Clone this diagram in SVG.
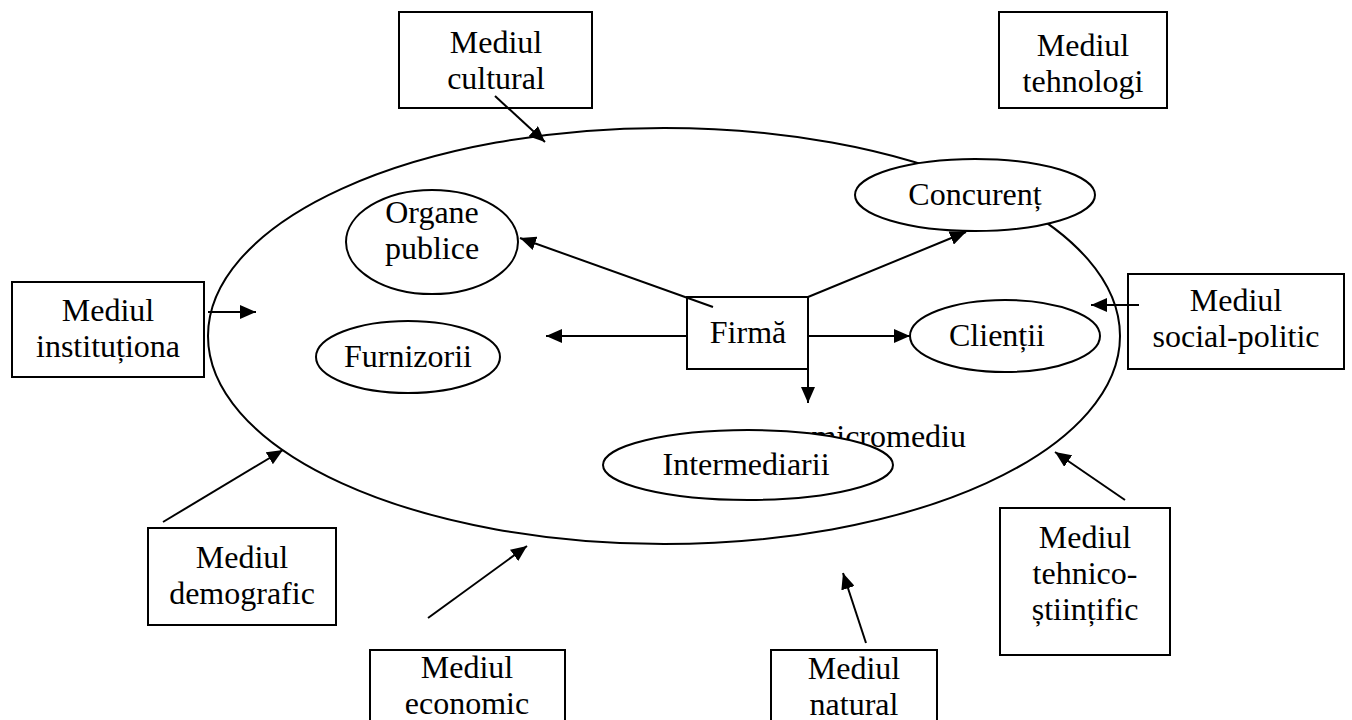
<svg xmlns="http://www.w3.org/2000/svg" width="1352" height="720" viewBox="0 0 1352 720">
<style>
text{font-family:"Liberation Serif","Times New Roman",serif;font-size:32px;fill:#000;text-anchor:middle}
.box{fill:#fff;stroke:#000;stroke-width:2}
.ell{fill:#fff;stroke:#000;stroke-width:2}
.con line{stroke:#000;stroke-width:2;marker-end:url(#ah)}
</style>
<defs>
<marker id="ah" markerUnits="userSpaceOnUse" markerWidth="18" markerHeight="14" refX="16" refY="7" orient="auto">
<path d="M0,0 L16,7 L0,14 Z" fill="#000"/>
</marker>
</defs>
<rect width="1352" height="720" fill="#fff"/>
<g id="micromediu-area">
<ellipse cx="664" cy="336" rx="456" ry="208" fill="none" stroke="#000" stroke-width="2"/>
<text x="966" y="447" style="text-anchor:end">micromediu</text>
</g>
<g id="organe"><ellipse class="ell" cx="432" cy="242" rx="86" ry="52"/><text x="432" y="223">Organe</text><text x="432" y="259">publice</text></g>
<g id="concurent"><ellipse class="ell" cx="975" cy="195" rx="120" ry="36"/><text x="975" y="205">Concurenț</text></g>
<g id="clientii"><ellipse class="ell" cx="1005" cy="336" rx="95" ry="36"/><text x="997" y="346">Clienții</text></g>
<g id="furnizorii"><ellipse class="ell" cx="408" cy="357" rx="92" ry="36"/><text x="408" y="367">Furnizorii</text></g>
<g id="intermediarii"><ellipse class="ell" cx="748" cy="465" rx="145" ry="35"/><text x="746" y="475">Intermediarii</text></g>
<g id="firma"><rect class="box" x="687" y="297" width="121" height="72"/><text x="748" y="343">Firmă</text></g>
<g id="cultural"><rect class="box" x="399" y="12" width="193" height="96"/><text x="496" y="53">Mediul</text><text x="496" y="89">cultural</text></g>
<g id="tehnologi"><rect class="box" x="999" y="12" width="168" height="96"/><text x="1083" y="56">Mediul</text><text x="1083" y="92">tehnologi</text></g>
<g id="institutional"><rect class="box" x="12" y="282" width="192" height="95"/><text x="108" y="321">Mediul</text><text x="108" y="357">instituționa</text></g>
<g id="socialpolitic"><rect class="box" x="1128" y="274" width="216" height="95"/><text x="1236" y="311">Mediul</text><text x="1236" y="347">social-politic</text></g>
<g id="demografic"><rect class="box" x="148" y="528" width="188" height="97"/><text x="242" y="568">Mediul</text><text x="242" y="604">demografic</text></g>
<g id="economic"><rect class="box" x="370" y="650" width="195" height="80"/><text x="467" y="678">Mediul</text><text x="467" y="714">economic</text></g>
<g id="natural"><rect class="box" x="771" y="650" width="166" height="80"/><text x="854" y="679">Mediul</text><text x="854" y="715">natural</text></g>
<g id="tehnico"><rect class="box" x="1000" y="508" width="170" height="147"/><text x="1085" y="548">Mediul</text><text x="1085" y="584">tehnico-</text><text x="1085" y="620">științific</text></g>
<g class="con" id="connectors">
<line x1="713" y1="307" x2="520" y2="238"/>
<line x1="808" y1="297" x2="966" y2="232"/>
<line x1="808" y1="336" x2="910" y2="336"/>
<line x1="687" y1="336" x2="546" y2="336"/>
<line x1="808" y1="369" x2="808" y2="403"/>
<line x1="495" y1="96" x2="545" y2="142"/>
<line x1="208" y1="312" x2="256" y2="312"/>
<line x1="1139" y1="305" x2="1091" y2="305"/>
<line x1="163" y1="522" x2="283" y2="450"/>
<line x1="428" y1="618" x2="527" y2="546"/>
<line x1="866" y1="643" x2="843" y2="573"/>
<line x1="1125" y1="500" x2="1055" y2="452"/>
</g>
</svg>
